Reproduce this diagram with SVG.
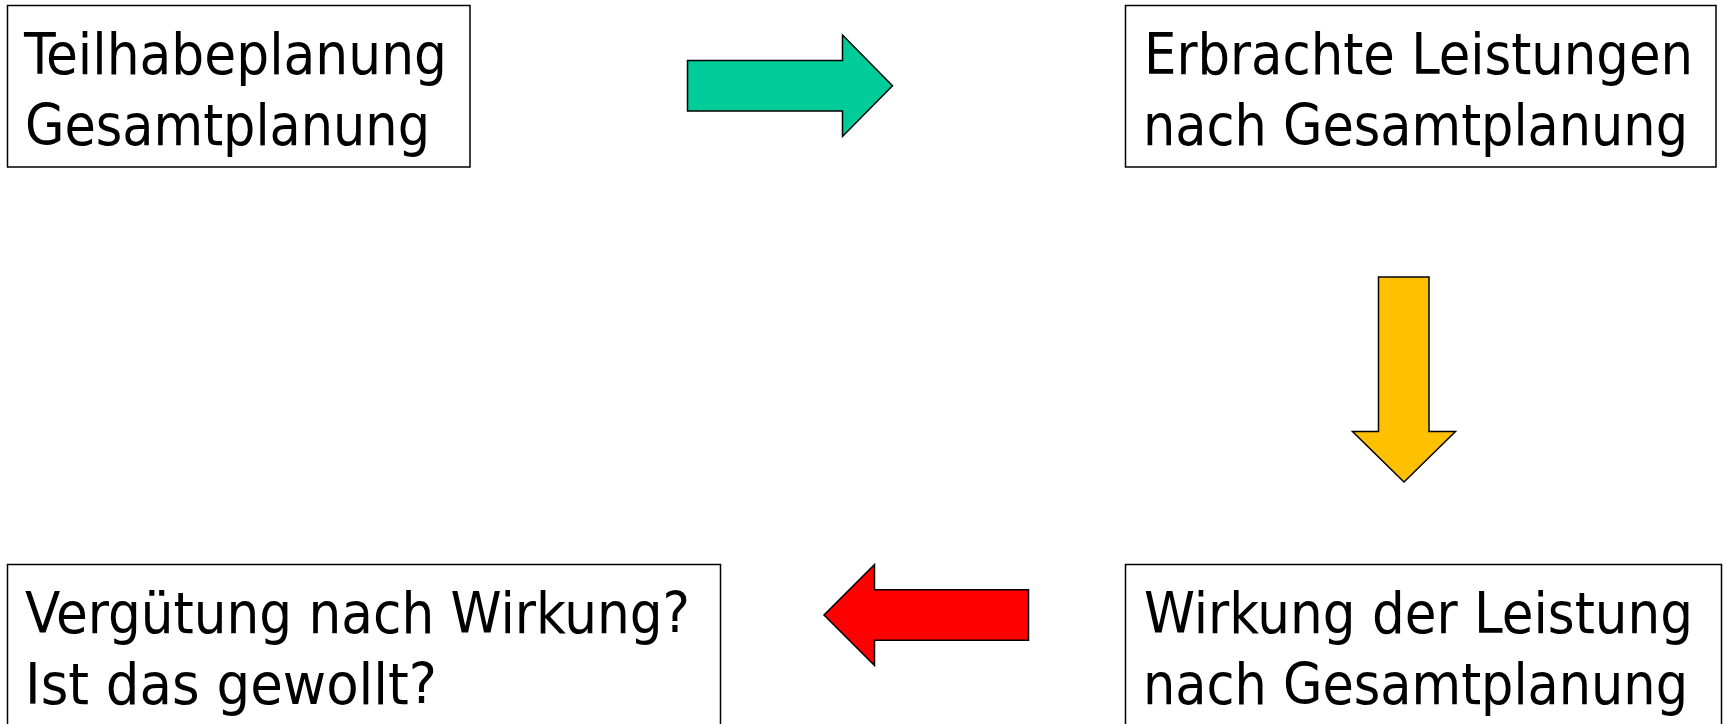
<svg xmlns="http://www.w3.org/2000/svg" width="1725" height="724" viewBox="0 0 1725 724">
<style>
.box{fill:#fff;stroke:#000;stroke-width:1.5}
.lbl{font-family:"DejaVu Sans Condensed","DejaVu Sans",sans-serif;font-size:57px;fill:#000}
.arr{stroke:#000;stroke-width:1.5;stroke-linejoin:miter}
</style>
<rect width="1725" height="724" fill="#fff"/>
<g id="n1">
<rect class="box" x="7.5" y="5.5" width="462.5" height="161.5"/>
<text class="lbl" x="24" y="74" textLength="423" lengthAdjust="spacingAndGlyphs">Teilhabeplanung</text>
<text class="lbl" x="25" y="145" textLength="405" lengthAdjust="spacingAndGlyphs">Gesamtplanung</text>
</g>
<g id="n2">
<rect class="box" x="1125.5" y="5.5" width="590.5" height="161.5"/>
<text class="lbl" x="1144" y="74" textLength="549" lengthAdjust="spacingAndGlyphs">Erbrachte Leistungen</text>
<text class="lbl" x="1143" y="145" textLength="545" lengthAdjust="spacingAndGlyphs">nach Gesamtplanung</text>
</g>
<g id="n3">
<rect class="box" x="7.5" y="564.5" width="713" height="200"/>
<text class="lbl" x="25" y="633" textLength="665" lengthAdjust="spacingAndGlyphs">Vergütung nach Wirkung?</text>
<text class="lbl" x="25" y="704" textLength="412" lengthAdjust="spacingAndGlyphs">Ist das gewollt?</text>
</g>
<g id="n4">
<rect class="box" x="1125.5" y="564.5" width="596" height="200"/>
<text class="lbl" x="1144" y="633" textLength="549" lengthAdjust="spacingAndGlyphs">Wirkung der Leistung</text>
<text class="lbl" x="1143" y="704" textLength="545" lengthAdjust="spacingAndGlyphs">nach Gesamtplanung</text>
</g>
<g id="connectors">
<polygon class="arr" fill="#00CC99" points="687.5,60.5 842.5,60.5 842.5,35 892.5,85.8 842.5,136.5 842.5,111 687.5,111"/>
<polygon class="arr" fill="#FFC000" points="1378.5,277 1429,277 1429,431.5 1455.5,431.5 1404,482 1352.5,431.5 1378.5,431.5"/>
<polygon class="arr" fill="#FF0000" points="1028.5,589.8 874.5,589.8 874.5,564.5 824,615 874.5,665.5 874.5,640.3 1028.5,640.3"/>
</g>
</svg>
